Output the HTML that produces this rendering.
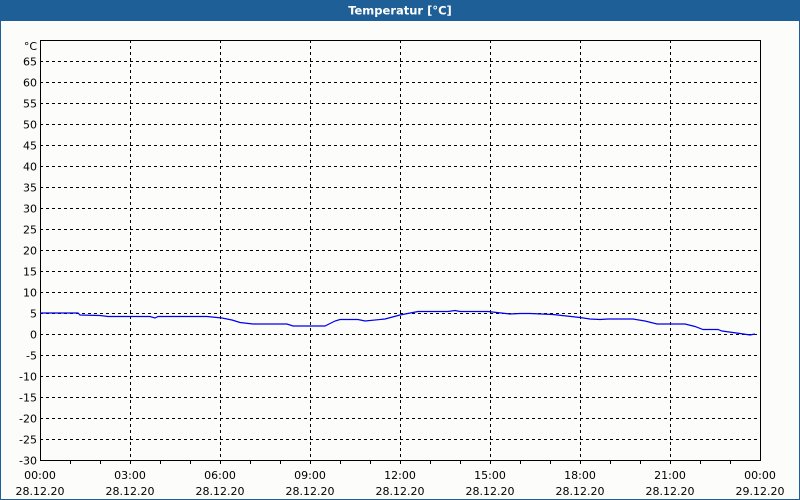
<!DOCTYPE html>
<html><head><meta charset="utf-8"><style>
html,body{margin:0;padding:0}
body{width:800px;height:500px;overflow:hidden;background:#fcfdfa;font-family:"DejaVu Sans","Liberation Sans",sans-serif}
</style></head><body>
<svg width="800" height="500" xmlns="http://www.w3.org/2000/svg" style="display:block">
<rect x="0" y="0" width="800" height="500" fill="#fcfdfa"/>
<rect x="0.5" y="0.5" width="799" height="499" fill="none" stroke="#1d5f96" stroke-width="1"/>
<rect x="0" y="0" width="800" height="21" fill="#1d5f96"/>
<text x="400" y="14.5" fill="#fff" font-size="11.5" font-weight="bold" text-anchor="middle" font-family="DejaVu Sans, sans-serif">Temperatur [°C]</text>
<g stroke="#000" stroke-width="1" stroke-dasharray="3,3" shape-rendering="crispEdges">
<line x1="40" y1="61.5" x2="760" y2="61.5"/><line x1="40" y1="82.5" x2="760" y2="82.5"/><line x1="40" y1="103.5" x2="760" y2="103.5"/><line x1="40" y1="124.5" x2="760" y2="124.5"/><line x1="40" y1="145.5" x2="760" y2="145.5"/><line x1="40" y1="166.5" x2="760" y2="166.5"/><line x1="40" y1="187.5" x2="760" y2="187.5"/><line x1="40" y1="208.5" x2="760" y2="208.5"/><line x1="40" y1="229.5" x2="760" y2="229.5"/><line x1="40" y1="250.5" x2="760" y2="250.5"/><line x1="40" y1="271.5" x2="760" y2="271.5"/><line x1="40" y1="292.5" x2="760" y2="292.5"/><line x1="40" y1="313.5" x2="760" y2="313.5"/><line x1="40" y1="334.5" x2="760" y2="334.5"/><line x1="40" y1="355.5" x2="760" y2="355.5"/><line x1="40" y1="376.5" x2="760" y2="376.5"/><line x1="40" y1="397.5" x2="760" y2="397.5"/><line x1="40" y1="418.5" x2="760" y2="418.5"/><line x1="40" y1="439.5" x2="760" y2="439.5"/>
<line x1="130.5" y1="40" x2="130.5" y2="460"/><line x1="220.5" y1="40" x2="220.5" y2="460"/><line x1="310.5" y1="40" x2="310.5" y2="460"/><line x1="400.5" y1="40" x2="400.5" y2="460"/><line x1="490.5" y1="40" x2="490.5" y2="460"/><line x1="580.5" y1="40" x2="580.5" y2="460"/><line x1="670.5" y1="40" x2="670.5" y2="460"/>
</g>
<rect x="40.5" y="40.5" width="720" height="420" fill="none" stroke="#000" stroke-width="1" shape-rendering="crispEdges"/>
<g stroke="#000" stroke-width="1" shape-rendering="crispEdges">
<line x1="70.5" y1="460" x2="70.5" y2="464"/><line x1="100.5" y1="460" x2="100.5" y2="464"/><line x1="160.5" y1="460" x2="160.5" y2="464"/><line x1="190.5" y1="460" x2="190.5" y2="464"/><line x1="250.5" y1="460" x2="250.5" y2="464"/><line x1="280.5" y1="460" x2="280.5" y2="464"/><line x1="340.5" y1="460" x2="340.5" y2="464"/><line x1="370.5" y1="460" x2="370.5" y2="464"/><line x1="430.5" y1="460" x2="430.5" y2="464"/><line x1="460.5" y1="460" x2="460.5" y2="464"/><line x1="520.5" y1="460" x2="520.5" y2="464"/><line x1="550.5" y1="460" x2="550.5" y2="464"/><line x1="610.5" y1="460" x2="610.5" y2="464"/><line x1="640.5" y1="460" x2="640.5" y2="464"/><line x1="700.5" y1="460" x2="700.5" y2="464"/><line x1="730.5" y1="460" x2="730.5" y2="464"/>
<line x1="130.5" y1="460" x2="130.5" y2="464"/><line x1="220.5" y1="460" x2="220.5" y2="464"/><line x1="310.5" y1="460" x2="310.5" y2="464"/><line x1="400.5" y1="460" x2="400.5" y2="464"/><line x1="490.5" y1="460" x2="490.5" y2="464"/><line x1="580.5" y1="460" x2="580.5" y2="464"/><line x1="670.5" y1="460" x2="670.5" y2="464"/>
</g>
<polyline fill="none" stroke="#0000ee" stroke-width="1.2" points="40,313 78,313 80,315 100,315.5 108,316.5 150,316.5 155,318 158,316.5 207,316.5 222,318 232,320 240,322.5 253,324 287,324 293,326 325,326 335,321 340,319.5 358,319.5 365,321 385,319 400,315 418,311.5 448,311.5 455,310.5 460,311.5 488,311.5 510,314 520,313.5 530,313.5 553,314.5 580,317.5 590,319 600,319.5 608,319 633,319 645,321 657,324 685,324 695,326.5 703,329.5 718,329.5 722,331 740,333.5 750,335 755,334"/>
<g font-size="11" fill="#000" text-anchor="end" font-family="DejaVu Sans, sans-serif">
<text x="37" y="50">°C</text>
<text x="37" y="65.5">65</text><text x="37" y="86.5">60</text><text x="37" y="107.5">55</text><text x="37" y="128.5">50</text><text x="37" y="149.5">45</text><text x="37" y="170.5">40</text><text x="37" y="191.5">35</text><text x="37" y="212.5">30</text><text x="37" y="233.5">25</text><text x="37" y="254.5">20</text><text x="37" y="275.5">15</text><text x="37" y="296.5">10</text><text x="37" y="317.5">5</text><text x="37" y="338.5">0</text><text x="37" y="359.5">-5</text><text x="37" y="380.5">-10</text><text x="37" y="401.5">-15</text><text x="37" y="422.5">-20</text><text x="37" y="443.5">-25</text><text x="37" y="464.5">-30</text>
</g>
<g font-size="11" fill="#000" text-anchor="middle" font-family="DejaVu Sans, sans-serif">
<text x="40" y="479">00:00</text><text x="40" y="495">28.12.20</text>
<text x="130" y="479">03:00</text><text x="130" y="495">28.12.20</text>
<text x="220" y="479">06:00</text><text x="220" y="495">28.12.20</text>
<text x="310" y="479">09:00</text><text x="310" y="495">28.12.20</text>
<text x="400" y="479">12:00</text><text x="400" y="495">28.12.20</text>
<text x="490" y="479">15:00</text><text x="490" y="495">28.12.20</text>
<text x="580" y="479">18:00</text><text x="580" y="495">28.12.20</text>
<text x="670" y="479">21:00</text><text x="670" y="495">28.12.20</text>
<text x="760" y="479">00:00</text><text x="760" y="495">29.12.20</text>
</g>
</svg>
</body></html>
